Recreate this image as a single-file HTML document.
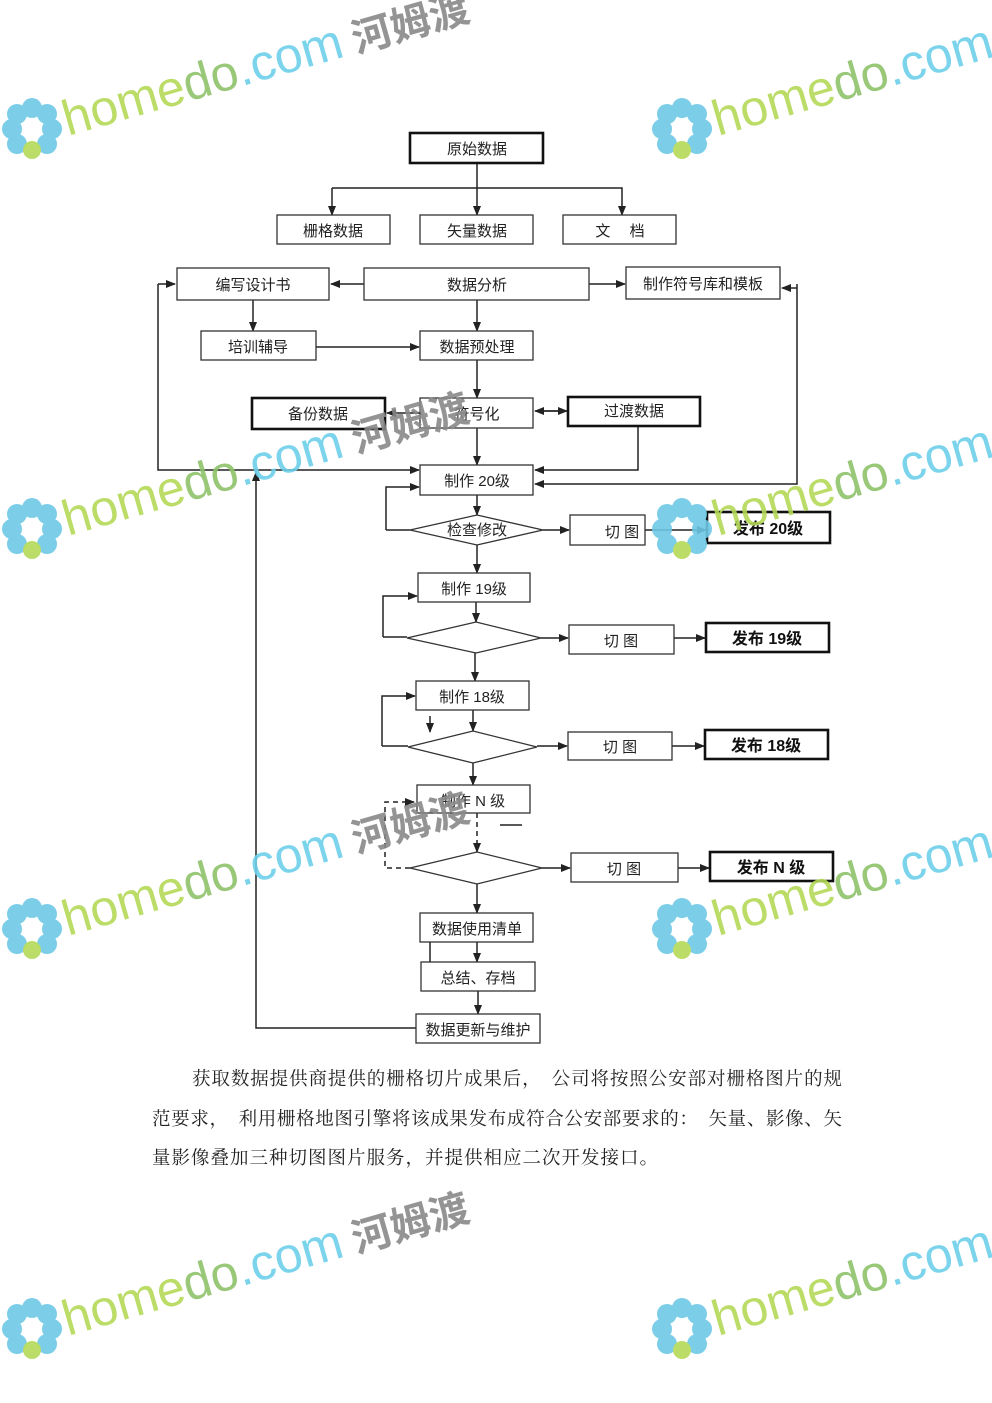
<!DOCTYPE html>
<html><head><meta charset="utf-8"><style>
html,body{margin:0;padding:0;background:#fff}
svg{display:block}
.b{fill:#fff;stroke:#333;stroke-width:1.3}
.k{fill:#fff;stroke:#111;stroke-width:2.6}
.t{font-family:"Liberation Sans","Noto Sans CJK SC",sans-serif;font-size:15px;fill:#222;text-anchor:middle}
.tb{font-family:"Liberation Sans","Noto Sans CJK SC",sans-serif;font-size:16px;font-weight:bold;fill:#111;text-anchor:middle}
.l{stroke:#222;stroke-width:1.5;fill:none}
.p{font-family:"Liberation Serif","Noto Serif CJK SC",serif;font-size:18.5px;fill:#222}
.wm{font-family:"Liberation Sans","Noto Sans CJK SC",sans-serif;font-size:50px}
</style></head><body>
<svg width="992" height="1403" viewBox="0 0 992 1403" xmlns="http://www.w3.org/2000/svg">
<defs><marker id="a" markerWidth="10" markerHeight="8" refX="9" refY="4" orient="auto" markerUnits="userSpaceOnUse"><path d="M0,0L10,4L0,8z" fill="#222"/></marker></defs>

<g class="l" marker-end="url(#a)">
<path d="M477,163V215"/><path d="M332,188H622V215"/><path d="M332,188V215"/>
<path d="M364,284H331"/><path d="M589,284H625"/>
<path d="M253,300V331"/><path d="M477,300V331"/>
<path d="M316,347H419"/><path d="M477,360V398"/>
<path d="M420,413H387"/><path d="M536,411H567"/><path d="M565,411H535"/>
<path d="M477,428V465"/>
<path d="M158,284V470H419"/><path d="M158,284H175"/>
<path d="M797,284V484H535"/><path d="M797,288H782"/>
<path d="M638,426V470H535"/>
<path d="M477,495V515"/><path d="M386,530V487H419"/>
<path d="M543,530H569"/><path d="M645,530H706"/>
<path d="M477,545V573"/>
<path d="M383,637V596H417"/>
<path d="M476,602V622"/><path d="M541,638H568"/><path d="M674,638H705"/>
<path d="M475,653V681"/>
<path d="M382,746V696H415"/>
<path d="M473,710V731"/><path d="M430,716V732"/>
<path d="M537,746H567"/><path d="M672,746H704"/>
<path d="M473,763V785"/><path d="M430,790V808"/>
<path d="M542,868H570"/><path d="M678,868H709"/>
<path d="M477,884V913"/><path d="M477,942V962"/><path d="M478,991V1014"/>
<path d="M416,1028H256V472"/>
</g>
<path class="l" d="M410,530H386"/><path class="l" d="M407,637H383"/><path class="l" d="M408,746H382"/>
<path class="l" d="M430,942V962"/><path class="l" d="M500,825H522"/><path class="l" d="M495,750H520"/>
<g class="l" style="stroke-dasharray:5,4"><path d="M410,868H385V802H414" marker-end="url(#a)"/><path d="M477,813V852" marker-end="url(#a)"/></g>

<rect class="k" x="410" y="133" width="133" height="30"/><text class="t" x="477" y="154">原始数据</text>
<rect class="b" x="277" y="215" width="113" height="29"/><text class="t" x="333" y="236">栅格数据</text>
<rect class="b" x="420" y="215" width="113" height="29"/><text class="t" x="477" y="236">矢量数据</text>
<rect class="b" x="563" y="215" width="113" height="29"/><text class="t" x="620" y="236">文　 档</text>
<rect class="b" x="177" y="268" width="152" height="32"/><text class="t" x="253" y="290">编写设计书</text>
<rect class="b" x="364" y="268" width="225" height="32"/><text class="t" x="477" y="290">数据分析</text>
<rect class="b" x="626" y="267" width="154" height="32"/><text class="t" x="703" y="289">制作符号库和模板</text>
<rect class="b" x="201" y="331" width="115" height="29"/><text class="t" x="258" y="352">培训辅导</text>
<rect class="b" x="420" y="331" width="113" height="29"/><text class="t" x="477" y="352">数据预处理</text>
<rect class="k" x="252" y="398" width="133" height="31"/><text class="t" x="318" y="419">备份数据</text>
<rect class="b" x="420" y="398" width="113" height="30"/><text class="t" x="477" y="419">符号化</text>
<rect class="k" x="568" y="397" width="132" height="29"/><text class="t" x="634" y="416">过渡数据</text>
<rect class="b" x="420" y="465" width="113" height="30"/><text class="t" x="477" y="486">制作 20级</text>
<path class="b" d="M410,530L477,515L543,530L477,545Z"/><text class="t" x="477" y="535">检查修改</text>
<rect class="b" x="570" y="515" width="75" height="30"/><text class="t" x="622" y="537">切 图</text>
<rect class="k" x="707" y="512" width="123" height="31"/><text class="tb" x="768" y="534">发布 20级</text>
<rect class="b" x="418" y="573" width="112" height="29"/><text class="t" x="474" y="594">制作 19级</text>
<path class="b" d="M407,638L476,622L541,638L476,653Z"/>
<rect class="b" x="569" y="625" width="105" height="29"/><text class="t" x="621" y="646">切 图</text>
<rect class="k" x="706" y="623" width="123" height="29"/><text class="tb" x="767" y="644">发布 19级</text>
<rect class="b" x="416" y="681" width="113" height="29"/><text class="t" x="472" y="702">制作 18级</text>
<path class="b" d="M408,747L473,731L537,747L473,763Z"/>
<rect class="b" x="568" y="732" width="104" height="28"/><text class="t" x="620" y="752">切 图</text>
<rect class="k" x="705" y="730" width="123" height="29"/><text class="tb" x="766" y="751">发布 18级</text>
<rect class="b" x="417" y="785" width="113" height="28"/><text class="t" x="473" y="806">制作 N 级</text>
<path class="b" d="M410,868L477,852L542,868L477,884Z"/>
<rect class="b" x="571" y="853" width="107" height="29"/><text class="t" x="624" y="874">切 图</text>
<rect class="k" x="710" y="852" width="123" height="29"/><text class="tb" x="771" y="873">发布 N 级</text>
<rect class="b" x="420" y="913" width="113" height="29"/><text class="t" x="477" y="934">数据使用清单</text>
<rect class="b" x="421" y="962" width="114" height="29"/><text class="t" x="478" y="983">总结、存档</text>
<rect class="b" x="416" y="1014" width="124" height="29"/><text class="t" x="478" y="1035">数据更新与维护</text>

<text class="p" x="192" y="1085" textLength="650" lengthAdjust="spacing">获取数据提供商提供的栅格切片成果后，　公司将按照公安部对栅格图片的规</text>
<text class="p" x="152" y="1125" textLength="690" lengthAdjust="spacing">范要求，　利用栅格地图引擎将该成果发布成符合公安部要求的：　矢量、影像、矢</text>
<text class="p" x="152" y="1164" textLength="506" lengthAdjust="spacing">量影像叠加三种切图图片服务，并提供相应二次开发接口。</text>

<g opacity="0.9">
<g transform="translate(32,128)"><g fill="#6cc8e6"><circle cx="0" cy="-20" r="10"/><circle cx="15" cy="-14" r="10"/><circle cx="20" cy="1" r="10"/><circle cx="15" cy="16" r="10"/><circle cx="-15" cy="16" r="10"/><circle cx="-20" cy="1" r="10"/><circle cx="-15" cy="-14" r="10"/></g><circle cx="0" cy="22" r="9" fill="#b5d957"/><text class="wm" x="36" y="8" transform="rotate(-16 36 8)"><tspan fill="#b5d957">home</tspan><tspan fill="#8ec26a">do</tspan><tspan fill="#6cd0ea">.com</tspan><tspan fill="#888" font-size="40" font-weight="bold"> 河姆渡</tspan></text></g>
<g transform="translate(682,128)"><g fill="#6cc8e6"><circle cx="0" cy="-20" r="10"/><circle cx="15" cy="-14" r="10"/><circle cx="20" cy="1" r="10"/><circle cx="15" cy="16" r="10"/><circle cx="-15" cy="16" r="10"/><circle cx="-20" cy="1" r="10"/><circle cx="-15" cy="-14" r="10"/></g><circle cx="0" cy="22" r="9" fill="#b5d957"/><text class="wm" x="36" y="8" transform="rotate(-16 36 8)"><tspan fill="#b5d957">home</tspan><tspan fill="#8ec26a">do</tspan><tspan fill="#6cd0ea">.com</tspan></text></g>
<g transform="translate(32,528)"><g fill="#6cc8e6"><circle cx="0" cy="-20" r="10"/><circle cx="15" cy="-14" r="10"/><circle cx="20" cy="1" r="10"/><circle cx="15" cy="16" r="10"/><circle cx="-15" cy="16" r="10"/><circle cx="-20" cy="1" r="10"/><circle cx="-15" cy="-14" r="10"/></g><circle cx="0" cy="22" r="9" fill="#b5d957"/><text class="wm" x="36" y="8" transform="rotate(-16 36 8)"><tspan fill="#b5d957">home</tspan><tspan fill="#8ec26a">do</tspan><tspan fill="#6cd0ea">.com</tspan><tspan fill="#888" font-size="40" font-weight="bold"> 河姆渡</tspan></text></g>
<g transform="translate(682,528)"><g fill="#6cc8e6"><circle cx="0" cy="-20" r="10"/><circle cx="15" cy="-14" r="10"/><circle cx="20" cy="1" r="10"/><circle cx="15" cy="16" r="10"/><circle cx="-15" cy="16" r="10"/><circle cx="-20" cy="1" r="10"/><circle cx="-15" cy="-14" r="10"/></g><circle cx="0" cy="22" r="9" fill="#b5d957"/><text class="wm" x="36" y="8" transform="rotate(-16 36 8)"><tspan fill="#b5d957">home</tspan><tspan fill="#8ec26a">do</tspan><tspan fill="#6cd0ea">.com</tspan></text></g>
<g transform="translate(32,928)"><g fill="#6cc8e6"><circle cx="0" cy="-20" r="10"/><circle cx="15" cy="-14" r="10"/><circle cx="20" cy="1" r="10"/><circle cx="15" cy="16" r="10"/><circle cx="-15" cy="16" r="10"/><circle cx="-20" cy="1" r="10"/><circle cx="-15" cy="-14" r="10"/></g><circle cx="0" cy="22" r="9" fill="#b5d957"/><text class="wm" x="36" y="8" transform="rotate(-16 36 8)"><tspan fill="#b5d957">home</tspan><tspan fill="#8ec26a">do</tspan><tspan fill="#6cd0ea">.com</tspan><tspan fill="#888" font-size="40" font-weight="bold"> 河姆渡</tspan></text></g>
<g transform="translate(682,928)"><g fill="#6cc8e6"><circle cx="0" cy="-20" r="10"/><circle cx="15" cy="-14" r="10"/><circle cx="20" cy="1" r="10"/><circle cx="15" cy="16" r="10"/><circle cx="-15" cy="16" r="10"/><circle cx="-20" cy="1" r="10"/><circle cx="-15" cy="-14" r="10"/></g><circle cx="0" cy="22" r="9" fill="#b5d957"/><text class="wm" x="36" y="8" transform="rotate(-16 36 8)"><tspan fill="#b5d957">home</tspan><tspan fill="#8ec26a">do</tspan><tspan fill="#6cd0ea">.com</tspan></text></g>
<g transform="translate(32,1328)"><g fill="#6cc8e6"><circle cx="0" cy="-20" r="10"/><circle cx="15" cy="-14" r="10"/><circle cx="20" cy="1" r="10"/><circle cx="15" cy="16" r="10"/><circle cx="-15" cy="16" r="10"/><circle cx="-20" cy="1" r="10"/><circle cx="-15" cy="-14" r="10"/></g><circle cx="0" cy="22" r="9" fill="#b5d957"/><text class="wm" x="36" y="8" transform="rotate(-16 36 8)"><tspan fill="#b5d957">home</tspan><tspan fill="#8ec26a">do</tspan><tspan fill="#6cd0ea">.com</tspan><tspan fill="#888" font-size="40" font-weight="bold"> 河姆渡</tspan></text></g>
<g transform="translate(682,1328)"><g fill="#6cc8e6"><circle cx="0" cy="-20" r="10"/><circle cx="15" cy="-14" r="10"/><circle cx="20" cy="1" r="10"/><circle cx="15" cy="16" r="10"/><circle cx="-15" cy="16" r="10"/><circle cx="-20" cy="1" r="10"/><circle cx="-15" cy="-14" r="10"/></g><circle cx="0" cy="22" r="9" fill="#b5d957"/><text class="wm" x="36" y="8" transform="rotate(-16 36 8)"><tspan fill="#b5d957">home</tspan><tspan fill="#8ec26a">do</tspan><tspan fill="#6cd0ea">.com</tspan></text></g>
</g>
</svg>
</body></html>
